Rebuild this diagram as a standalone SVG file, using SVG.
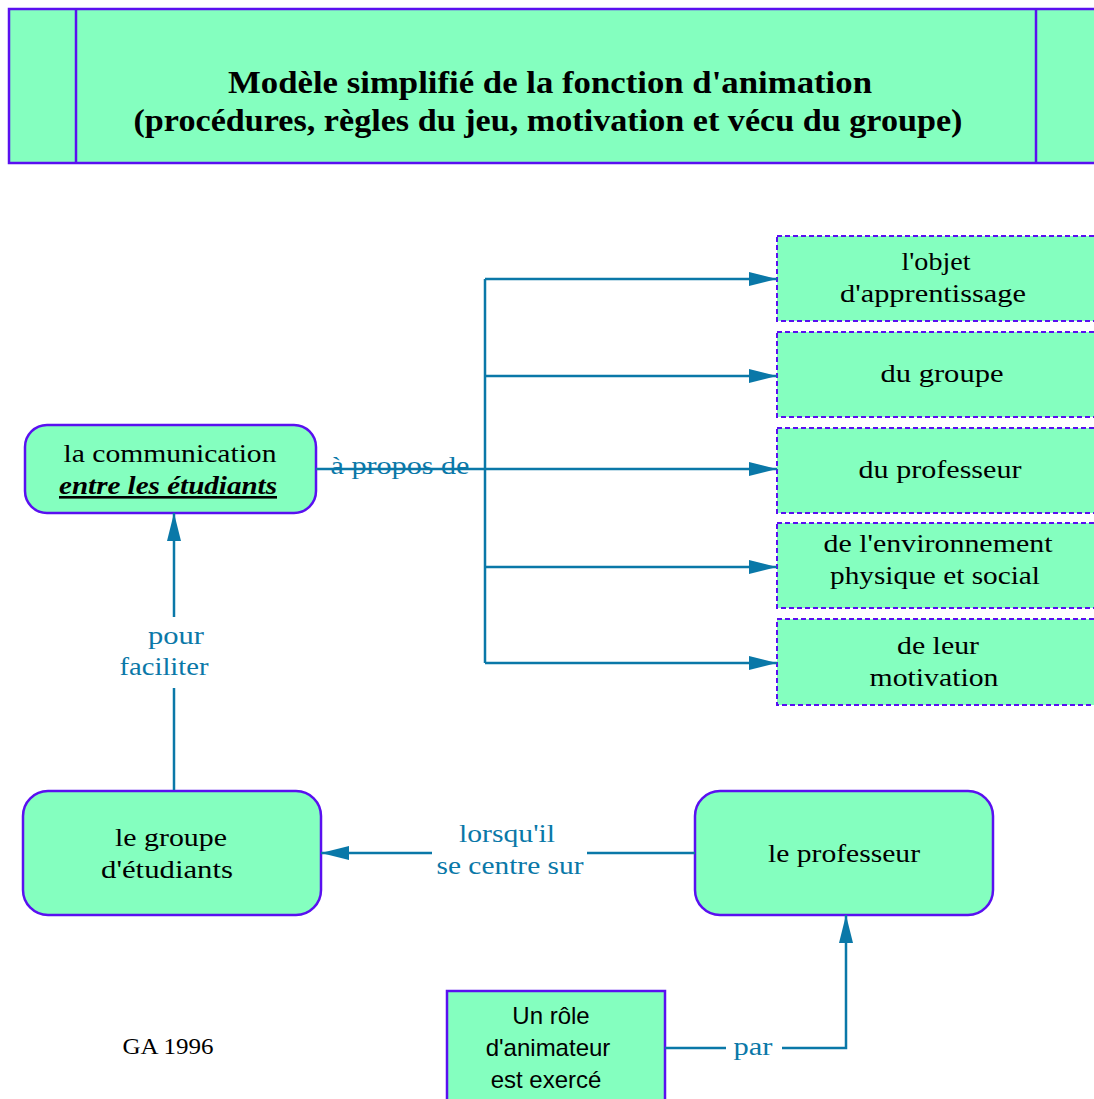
<svg xmlns="http://www.w3.org/2000/svg" width="1094" height="1099" viewBox="0 0 1094 1099">
<defs>
<marker id="ah" markerUnits="userSpaceOnUse" markerWidth="28" markerHeight="14" refX="28" refY="7" orient="auto">
<path d="M0,0 L28,7 L0,14 Z" fill="#0a78a8"/>
</marker>
<style>
.box{fill:#84ffbf;stroke:#5a10f0;stroke-width:2.5}
.dbox{fill:#84ffbf;stroke:#5a10f0;stroke-width:2;stroke-dasharray:5 3}
.t{font-family:"Liberation Serif",serif;font-size:26px;fill:#000;text-anchor:middle}
.tb{font-family:"Liberation Serif",serif;font-size:31px;font-weight:bold;fill:#000;text-anchor:middle}
.s{font-family:"Liberation Sans",sans-serif;font-size:24px;fill:#000;text-anchor:middle}
.lbl{font-family:"Liberation Serif",serif;font-size:26px;fill:#0a78a8;text-anchor:middle}
.c{fill:none;stroke:#0a78a8;stroke-width:2.5}
</style>
</defs>
<rect width="1094" height="1099" fill="#fff"/>
<g id="title">
<rect class="box" x="9" y="9" width="1095" height="154"/>
<line x1="76" y1="9" x2="76" y2="163" stroke="#5a10f0" stroke-width="2.5"/>
<line x1="1036" y1="9" x2="1036" y2="163" stroke="#5a10f0" stroke-width="2.5"/>
<text class="tb" x="550" y="93" textLength="644" lengthAdjust="spacingAndGlyphs">Modèle simplifié de la fonction d'animation</text>
<text class="tb" x="548" y="131" textLength="829" lengthAdjust="spacingAndGlyphs">(procédures, règles du jeu, motivation et vécu du groupe)</text>
</g>
<g id="objet">
<rect class="dbox" x="777" y="236" width="330" height="85"/>
<text class="t" x="936" y="270" textLength="69" lengthAdjust="spacingAndGlyphs">l'objet</text>
<text class="t" x="933" y="302" textLength="186" lengthAdjust="spacingAndGlyphs">d'apprentissage</text>
</g>
<g id="groupe-obj">
<rect class="dbox" x="777" y="332" width="330" height="85"/>
<text class="t" x="942" y="382" textLength="123" lengthAdjust="spacingAndGlyphs">du groupe</text>
</g>
<g id="professeur-obj">
<rect class="dbox" x="777" y="428" width="330" height="85"/>
<text class="t" x="940" y="478" textLength="163" lengthAdjust="spacingAndGlyphs">du professeur</text>
</g>
<g id="environnement">
<rect class="dbox" x="777" y="523" width="330" height="85"/>
<text class="t" x="938" y="552" textLength="229" lengthAdjust="spacingAndGlyphs">de l'environnement</text>
<text class="t" x="935" y="584" textLength="210" lengthAdjust="spacingAndGlyphs">physique et social</text>
</g>
<g id="motivation">
<rect class="dbox" x="777" y="619" width="330" height="86"/>
<text class="t" x="938" y="654" textLength="82" lengthAdjust="spacingAndGlyphs">de leur</text>
<text class="t" x="934" y="686" textLength="129" lengthAdjust="spacingAndGlyphs">motivation</text>
</g>
<g id="communication">
<rect class="box" x="25" y="425" width="291" height="88" rx="22"/>
<text class="t" x="170" y="462" textLength="213" lengthAdjust="spacingAndGlyphs">la communication</text>
<text class="t" x="168" y="494" font-weight="bold" font-style="italic" text-decoration="underline" textLength="218" lengthAdjust="spacingAndGlyphs">entre les étudiants</text>
</g>
<g id="groupe">
<rect class="box" x="23" y="791" width="298" height="124" rx="25"/>
<text class="t" x="171" y="846" textLength="112" lengthAdjust="spacingAndGlyphs">le groupe</text>
<text class="t" x="167" y="878" textLength="132" lengthAdjust="spacingAndGlyphs">d'étudiants</text>
</g>
<g id="professeur">
<rect class="box" x="695" y="791" width="298" height="124" rx="25"/>
<text class="t" x="844" y="862" textLength="152" lengthAdjust="spacingAndGlyphs">le professeur</text>
</g>
<g id="role">
<rect class="box" x="447" y="991" width="218" height="120"/>
<text class="s" x="551" y="1024">Un rôle</text>
<text class="s" x="548" y="1056">d'animateur</text>
<text class="s" x="546" y="1088">est exercé</text>
</g>
<g id="credit">
<text x="168" y="1054" font-family="Liberation Serif,serif" font-size="24" text-anchor="middle" textLength="91" lengthAdjust="spacingAndGlyphs">GA 1996</text>
</g>
<g id="connectors">
<path class="c" d="M316,469 H485"/>
<path class="c" d="M485,279 V663"/>
<path class="c" d="M485,279 H777" marker-end="url(#ah)"/>
<path class="c" d="M485,376 H777" marker-end="url(#ah)"/>
<path class="c" d="M485,469 H777" marker-end="url(#ah)"/>
<path class="c" d="M485,567 H777" marker-end="url(#ah)"/>
<path class="c" d="M485,663 H777" marker-end="url(#ah)"/>
<text class="lbl" x="400" y="474" textLength="139" lengthAdjust="spacingAndGlyphs">à propos de</text>
<path class="c" d="M174,790 V688"/>
<path class="c" d="M174,617 V513" marker-end="url(#ah)"/>
<text class="lbl" x="176" y="644" textLength="56" lengthAdjust="spacingAndGlyphs">pour</text>
<text class="lbl" x="164" y="675" textLength="89" lengthAdjust="spacingAndGlyphs">faciliter</text>
<path class="c" d="M695,853 H587"/>
<path class="c" d="M432,853 H321" marker-end="url(#ah)"/>
<text class="lbl" x="507" y="842" textLength="96" lengthAdjust="spacingAndGlyphs">lorsqu'il</text>
<text class="lbl" x="510" y="874" textLength="147" lengthAdjust="spacingAndGlyphs">se centre sur</text>
<path class="c" d="M665,1048 H726"/>
<path class="c" d="M782,1048 H846 V915" marker-end="url(#ah)"/>
<text class="lbl" x="753" y="1055" textLength="39" lengthAdjust="spacingAndGlyphs">par</text>
</g>
</svg>
